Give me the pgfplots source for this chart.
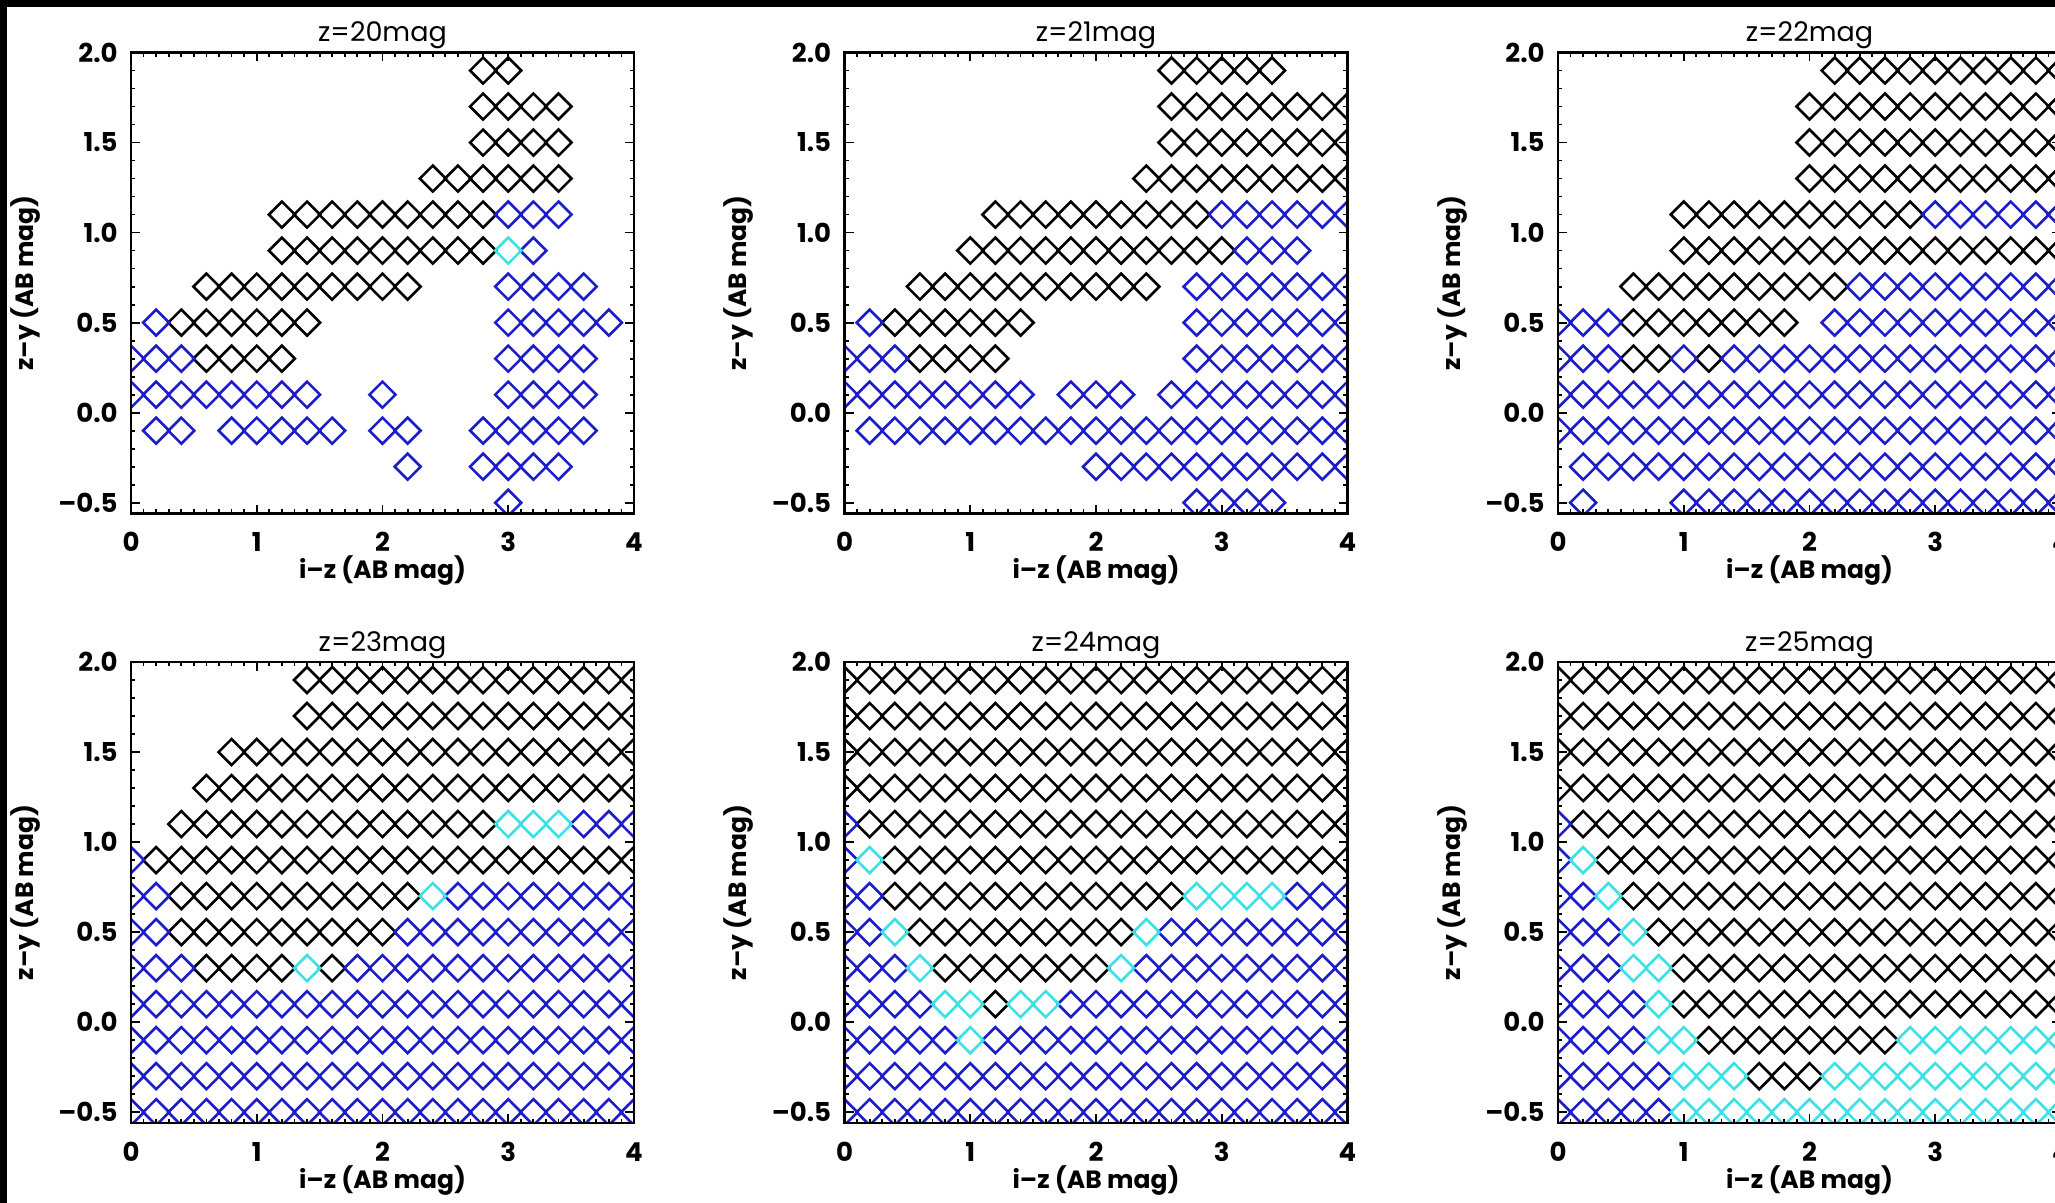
\documentclass[border=0pt]{standalone}
\usepackage{pgfplots}
\pgfplotsset{compat=1.18}
\usepackage{fontspec}
\setmainfont{Poppins}
\definecolor{selblue}{RGB}{28,28,200}
\definecolor{selcyan}{RGB}{60,225,230}
\pgfplotsset{
  mk/.style={only marks, mark=square, mark size=4.6pt,
    mark options={rotate=45, line width=1.3pt, solid}},
  panel/.style={
    scale only axis, width=251.5pt, height=230.5pt,
    anchor=north west,
    xmin=0, xmax=4, ymin=-0.56, ymax=2,
    xtick={0,1,2,3,4}, xticklabels={0,1,2,3,4},
    ytick={-0.5,0,0.5,1,1.5,2}, yticklabels={--0.5,0.0,0.5,1.0,1.5,2.0},
    minor x tick num=9, minor y tick num=4,
    xtick pos=both, ytick pos=both,
    tick align=inside,
    major tick length=4.5pt, minor tick length=2.2pt,
    tick style={black, line width=0.9pt},
    axis line style={black, line width=1.3pt},
    axis on top, clip marker paths=true,
    tick label style={font=\fontsize{13}{13}\selectfont\bfseries},
    xticklabel style={anchor=base, yshift=-19pt},
    yticklabel style={anchor=east, inner sep=0pt, xshift=-6.5pt},
    every axis title/.style={at={(0.5,1)}, anchor=base, yshift=5.5pt,
      font=\fontsize{13.5}{14}\selectfont},
    every axis x label/.style={at={(axis description cs:0.5,-0.124)}, anchor=center,
      font=\fontsize{12.5}{13}\selectfont\bfseries},
    every axis y label/.style={at={(axis description cs:-0.21,0.5)}, anchor=center,
      rotate=90, font=\fontsize{12.5}{13}\selectfont\bfseries},
    xlabel={i--z (AB mag)}, ylabel={z--y (AB mag)},
  },
}
\begin{document}
\begin{tikzpicture}
\path[use as bounding box] (0,0) rectangle (1027.5pt,-601.5pt);
\fill[black] (0,0) rectangle (1027.5pt,-601.5pt);
\fill[white] (3.5pt,-3.5pt) rectangle (1027.5pt,-601.5pt);
\clip (0,0) rectangle (1027.5pt,-601.5pt);

% ---------------- z = 20 mag ----------------
\begin{axis}[panel, at={(65.5pt,-26.25pt)}, title={z=20mag}]
\addplot[mk, black] coordinates {
(2.8,1.9)(3,1.9)
(2.8,1.7)(3,1.7)(3.2,1.7)(3.4,1.7)
(2.8,1.5)(3,1.5)(3.2,1.5)(3.4,1.5)
(2.4,1.3)(2.6,1.3)(2.8,1.3)(3,1.3)(3.2,1.3)(3.4,1.3)
(1.2,1.1)(1.4,1.1)(1.6,1.1)(1.8,1.1)(2,1.1)(2.2,1.1)(2.4,1.1)(2.6,1.1)(2.8,1.1)
(1.2,0.9)(1.4,0.9)(1.6,0.9)(1.8,0.9)(2,0.9)(2.2,0.9)(2.4,0.9)(2.6,0.9)(2.8,0.9)
(0.6,0.7)(0.8,0.7)(1,0.7)(1.2,0.7)(1.4,0.7)(1.6,0.7)(1.8,0.7)(2,0.7)(2.2,0.7)
(0.4,0.5)(0.6,0.5)(0.8,0.5)(1,0.5)(1.2,0.5)(1.4,0.5)
(0.6,0.3)(0.8,0.3)(1,0.3)(1.2,0.3)
};
\addplot[mk, selblue] coordinates {
(3,1.1)(3.2,1.1)(3.4,1.1)
(3.2,0.9)
(3,0.7)(3.2,0.7)(3.4,0.7)(3.6,0.7)
(0.2,0.5)(3,0.5)(3.2,0.5)(3.4,0.5)(3.6,0.5)(3.8,0.5)
(0,0.3)(0.2,0.3)(0.4,0.3)(3,0.3)(3.2,0.3)(3.4,0.3)(3.6,0.3)
(0,0.1)(0.2,0.1)(0.4,0.1)(0.6,0.1)(0.8,0.1)(1,0.1)(1.2,0.1)(1.4,0.1)(2,0.1)(3,0.1)(3.2,0.1)(3.4,0.1)(3.6,0.1)
(0.2,-0.1)(0.4,-0.1)(0.8,-0.1)(1,-0.1)(1.2,-0.1)(1.4,-0.1)(1.6,-0.1)(2,-0.1)(2.2,-0.1)(2.8,-0.1)(3,-0.1)(3.2,-0.1)(3.4,-0.1)(3.6,-0.1)
(2.2,-0.3)(2.8,-0.3)(3,-0.3)(3.2,-0.3)(3.4,-0.3)
(3,-0.5)
};
\addplot[mk, selcyan] coordinates {(3,0.9)};
\end{axis}

% ---------------- z = 21 mag ----------------
\begin{axis}[panel, at={(422.25pt,-26.25pt)}, title={z=21mag}]
\addplot[mk, black] coordinates {
(2.6,1.9)(2.8,1.9)(3,1.9)(3.2,1.9)(3.4,1.9)
(2.6,1.7)(2.8,1.7)(3,1.7)(3.2,1.7)(3.4,1.7)(3.6,1.7)(3.8,1.7)(4,1.7)
(2.6,1.5)(2.8,1.5)(3,1.5)(3.2,1.5)(3.4,1.5)(3.6,1.5)(3.8,1.5)(4,1.5)
(2.4,1.3)(2.6,1.3)(2.8,1.3)(3,1.3)(3.2,1.3)(3.4,1.3)(3.6,1.3)(3.8,1.3)(4,1.3)
(1.2,1.1)(1.4,1.1)(1.6,1.1)(1.8,1.1)(2,1.1)(2.2,1.1)(2.4,1.1)(2.6,1.1)(2.8,1.1)
(1,0.9)(1.2,0.9)(1.4,0.9)(1.6,0.9)(1.8,0.9)(2,0.9)(2.2,0.9)(2.4,0.9)(2.6,0.9)(2.8,0.9)(3,0.9)
(0.6,0.7)(0.8,0.7)(1,0.7)(1.2,0.7)(1.4,0.7)(1.6,0.7)(1.8,0.7)(2,0.7)(2.2,0.7)(2.4,0.7)
(0.4,0.5)(0.6,0.5)(0.8,0.5)(1,0.5)(1.2,0.5)(1.4,0.5)
(0.6,0.3)(0.8,0.3)(1,0.3)(1.2,0.3)
};
\addplot[mk, selblue] coordinates {
(3,1.1)(3.2,1.1)(3.4,1.1)(3.6,1.1)(3.8,1.1)(4,1.1)
(3.2,0.9)(3.4,0.9)(3.6,0.9)
(2.8,0.7)(3,0.7)(3.2,0.7)(3.4,0.7)(3.6,0.7)(3.8,0.7)(4,0.7)
(0.2,0.5)(2.8,0.5)(3,0.5)(3.2,0.5)(3.4,0.5)(3.6,0.5)(3.8,0.5)(4,0.5)
(0,0.3)(0.2,0.3)(0.4,0.3)(2.8,0.3)(3,0.3)(3.2,0.3)(3.4,0.3)(3.6,0.3)(3.8,0.3)(4,0.3)
(0,0.1)(0.2,0.1)(0.4,0.1)(0.6,0.1)(0.8,0.1)(1,0.1)(1.2,0.1)(1.4,0.1)(1.8,0.1)(2,0.1)(2.2,0.1)(2.6,0.1)(2.8,0.1)(3,0.1)(3.2,0.1)(3.4,0.1)(3.6,0.1)(3.8,0.1)(4,0.1)
(0.2,-0.1)(0.4,-0.1)(0.6,-0.1)(0.8,-0.1)(1,-0.1)(1.2,-0.1)(1.4,-0.1)(1.6,-0.1)(1.8,-0.1)(2,-0.1)(2.2,-0.1)(2.4,-0.1)(2.6,-0.1)(2.8,-0.1)(3,-0.1)(3.2,-0.1)(3.4,-0.1)(3.6,-0.1)(3.8,-0.1)(4,-0.1)
(2,-0.3)(2.2,-0.3)(2.4,-0.3)(2.6,-0.3)(2.8,-0.3)(3,-0.3)(3.2,-0.3)(3.4,-0.3)(3.6,-0.3)(3.8,-0.3)(4,-0.3)
(2.8,-0.5)(3,-0.5)(3.2,-0.5)(3.4,-0.5)
};
\end{axis}

% ---------------- z = 22 mag ----------------
\begin{axis}[panel, at={(779pt,-26.25pt)}, title={z=22mag}]
\addplot[mk, black] coordinates {
(2.2,1.9)(2.4,1.9)(2.6,1.9)(2.8,1.9)(3,1.9)(3.2,1.9)(3.4,1.9)(3.6,1.9)(3.8,1.9)(4,1.9)
(2,1.7)(2.2,1.7)(2.4,1.7)(2.6,1.7)(2.8,1.7)(3,1.7)(3.2,1.7)(3.4,1.7)(3.6,1.7)(3.8,1.7)(4,1.7)
(2,1.5)(2.2,1.5)(2.4,1.5)(2.6,1.5)(2.8,1.5)(3,1.5)(3.2,1.5)(3.4,1.5)(3.6,1.5)(3.8,1.5)(4,1.5)
(2,1.3)(2.2,1.3)(2.4,1.3)(2.6,1.3)(2.8,1.3)(3,1.3)(3.2,1.3)(3.4,1.3)(3.6,1.3)(3.8,1.3)(4,1.3)
(1,1.1)(1.2,1.1)(1.4,1.1)(1.6,1.1)(1.8,1.1)(2,1.1)(2.2,1.1)(2.4,1.1)(2.6,1.1)(2.8,1.1)
(1,0.9)(1.2,0.9)(1.4,0.9)(1.6,0.9)(1.8,0.9)(2,0.9)(2.2,0.9)(2.4,0.9)(2.6,0.9)(2.8,0.9)(3,0.9)(3.2,0.9)(3.4,0.9)(3.6,0.9)(3.8,0.9)(4,0.9)
(0.6,0.7)(0.8,0.7)(1,0.7)(1.2,0.7)(1.4,0.7)(1.6,0.7)(1.8,0.7)(2,0.7)(2.2,0.7)
(0.6,0.5)(0.8,0.5)(1,0.5)(1.2,0.5)(1.4,0.5)(1.6,0.5)(1.8,0.5)
(0.6,0.3)(0.8,0.3)(1.2,0.3)
};
\addplot[mk, selblue] coordinates {
(3,1.1)(3.2,1.1)(3.4,1.1)(3.6,1.1)(3.8,1.1)(4,1.1)
(2.4,0.7)(2.6,0.7)(2.8,0.7)(3,0.7)(3.2,0.7)(3.4,0.7)(3.6,0.7)(3.8,0.7)(4,0.7)
(0,0.5)(0.2,0.5)(0.4,0.5)(2.2,0.5)(2.4,0.5)(2.6,0.5)(2.8,0.5)(3,0.5)(3.2,0.5)(3.4,0.5)(3.6,0.5)(3.8,0.5)(4,0.5)
(0,0.3)(0.2,0.3)(0.4,0.3)(1,0.3)(1.4,0.3)(1.6,0.3)(1.8,0.3)(2,0.3)(2.2,0.3)(2.4,0.3)(2.6,0.3)(2.8,0.3)(3,0.3)(3.2,0.3)(3.4,0.3)(3.6,0.3)(3.8,0.3)(4,0.3)
(0,0.1)(0.2,0.1)(0.4,0.1)(0.6,0.1)(0.8,0.1)(1,0.1)(1.2,0.1)(1.4,0.1)(1.6,0.1)(1.8,0.1)(2,0.1)(2.2,0.1)(2.4,0.1)(2.6,0.1)(2.8,0.1)(3,0.1)(3.2,0.1)(3.4,0.1)(3.6,0.1)(3.8,0.1)(4,0.1)
(0,-0.1)(0.2,-0.1)(0.4,-0.1)(0.6,-0.1)(0.8,-0.1)(1,-0.1)(1.2,-0.1)(1.4,-0.1)(1.6,-0.1)(1.8,-0.1)(2,-0.1)(2.2,-0.1)(2.4,-0.1)(2.6,-0.1)(2.8,-0.1)(3,-0.1)(3.2,-0.1)(3.4,-0.1)(3.6,-0.1)(3.8,-0.1)(4,-0.1)
(0.2,-0.3)(0.4,-0.3)(0.6,-0.3)(0.8,-0.3)(1,-0.3)(1.2,-0.3)(1.4,-0.3)(1.6,-0.3)(1.8,-0.3)(2,-0.3)(2.2,-0.3)(2.4,-0.3)(2.6,-0.3)(2.8,-0.3)(3,-0.3)(3.2,-0.3)(3.4,-0.3)(3.6,-0.3)(3.8,-0.3)(4,-0.3)
(0.2,-0.5)(1,-0.5)(1.2,-0.5)(1.4,-0.5)(1.6,-0.5)(1.8,-0.5)(2,-0.5)(2.2,-0.5)(2.4,-0.5)(2.6,-0.5)(2.8,-0.5)(3,-0.5)(3.2,-0.5)(3.4,-0.5)(3.6,-0.5)(3.8,-0.5)(4,-0.5)
};
\end{axis}

% ---------------- z = 23 mag ----------------
\begin{axis}[panel, at={(65.5pt,-331pt)}, title={z=23mag}]
\addplot[mk, black] coordinates {
(1.4,1.9)(1.6,1.9)(1.8,1.9)(2,1.9)(2.2,1.9)(2.4,1.9)(2.6,1.9)(2.8,1.9)(3,1.9)(3.2,1.9)(3.4,1.9)(3.6,1.9)(3.8,1.9)(4,1.9)
(1.4,1.7)(1.6,1.7)(1.8,1.7)(2,1.7)(2.2,1.7)(2.4,1.7)(2.6,1.7)(2.8,1.7)(3,1.7)(3.2,1.7)(3.4,1.7)(3.6,1.7)(3.8,1.7)(4,1.7)
(0.8,1.5)(1,1.5)(1.2,1.5)(1.4,1.5)(1.6,1.5)(1.8,1.5)(2,1.5)(2.2,1.5)(2.4,1.5)(2.6,1.5)(2.8,1.5)(3,1.5)(3.2,1.5)(3.4,1.5)(3.6,1.5)(3.8,1.5)(4,1.5)
(0.6,1.3)(0.8,1.3)(1,1.3)(1.2,1.3)(1.4,1.3)(1.6,1.3)(1.8,1.3)(2,1.3)(2.2,1.3)(2.4,1.3)(2.6,1.3)(2.8,1.3)(3,1.3)(3.2,1.3)(3.4,1.3)(3.6,1.3)(3.8,1.3)(4,1.3)
(0.4,1.1)(0.6,1.1)(0.8,1.1)(1,1.1)(1.2,1.1)(1.4,1.1)(1.6,1.1)(1.8,1.1)(2,1.1)(2.2,1.1)(2.4,1.1)(2.6,1.1)(2.8,1.1)
(0.2,0.9)(0.4,0.9)(0.6,0.9)(0.8,0.9)(1,0.9)(1.2,0.9)(1.4,0.9)(1.6,0.9)(1.8,0.9)(2,0.9)(2.2,0.9)(2.4,0.9)(2.6,0.9)(2.8,0.9)(3,0.9)(3.2,0.9)(3.4,0.9)(3.6,0.9)(3.8,0.9)(4,0.9)
(0.4,0.7)(0.6,0.7)(0.8,0.7)(1,0.7)(1.2,0.7)(1.4,0.7)(1.6,0.7)(1.8,0.7)(2,0.7)(2.2,0.7)
(0.4,0.5)(0.6,0.5)(0.8,0.5)(1,0.5)(1.2,0.5)(1.4,0.5)(1.6,0.5)(1.8,0.5)(2,0.5)
(0.6,0.3)(0.8,0.3)(1,0.3)(1.2,0.3)(1.6,0.3)
};
\addplot[mk, selblue] coordinates {
(3.6,1.1)(3.8,1.1)(4,1.1)
(0,0.9)
(0,0.7)(0.2,0.7)(2.6,0.7)(2.8,0.7)(3,0.7)(3.2,0.7)(3.4,0.7)(3.6,0.7)(3.8,0.7)(4,0.7)
(0,0.5)(0.2,0.5)(2.2,0.5)(2.4,0.5)(2.6,0.5)(2.8,0.5)(3,0.5)(3.2,0.5)(3.4,0.5)(3.6,0.5)(3.8,0.5)(4,0.5)
(0,0.3)(0.2,0.3)(0.4,0.3)(1.8,0.3)(2,0.3)(2.2,0.3)(2.4,0.3)(2.6,0.3)(2.8,0.3)(3,0.3)(3.2,0.3)(3.4,0.3)(3.6,0.3)(3.8,0.3)(4,0.3)
(0,0.1)(0.2,0.1)(0.4,0.1)(0.6,0.1)(0.8,0.1)(1,0.1)(1.2,0.1)(1.4,0.1)(1.6,0.1)(1.8,0.1)(2,0.1)(2.2,0.1)(2.4,0.1)(2.6,0.1)(2.8,0.1)(3,0.1)(3.2,0.1)(3.4,0.1)(3.6,0.1)(3.8,0.1)(4,0.1)
(0,-0.1)(0.2,-0.1)(0.4,-0.1)(0.6,-0.1)(0.8,-0.1)(1,-0.1)(1.2,-0.1)(1.4,-0.1)(1.6,-0.1)(1.8,-0.1)(2,-0.1)(2.2,-0.1)(2.4,-0.1)(2.6,-0.1)(2.8,-0.1)(3,-0.1)(3.2,-0.1)(3.4,-0.1)(3.6,-0.1)(3.8,-0.1)(4,-0.1)
(0,-0.3)(0.2,-0.3)(0.4,-0.3)(0.6,-0.3)(0.8,-0.3)(1,-0.3)(1.2,-0.3)(1.4,-0.3)(1.6,-0.3)(1.8,-0.3)(2,-0.3)(2.2,-0.3)(2.4,-0.3)(2.6,-0.3)(2.8,-0.3)(3,-0.3)(3.2,-0.3)(3.4,-0.3)(3.6,-0.3)(3.8,-0.3)(4,-0.3)
(0,-0.5)(0.2,-0.5)(0.4,-0.5)(0.6,-0.5)(0.8,-0.5)(1,-0.5)(1.2,-0.5)(1.4,-0.5)(1.6,-0.5)(1.8,-0.5)(2,-0.5)(2.2,-0.5)(2.4,-0.5)(2.6,-0.5)(2.8,-0.5)(3,-0.5)(3.2,-0.5)(3.4,-0.5)(3.6,-0.5)(3.8,-0.5)(4,-0.5)
};
\addplot[mk, selcyan] coordinates {(3,1.1)(3.2,1.1)(3.4,1.1)(2.4,0.7)(1.4,0.3)};
\end{axis}

% ---------------- z = 24 mag ----------------
\begin{axis}[panel, at={(422.25pt,-331pt)}, title={z=24mag}]
\addplot[mk, black] coordinates {
(0,1.9)(0.2,1.9)(0.4,1.9)(0.6,1.9)(0.8,1.9)(1,1.9)(1.2,1.9)(1.4,1.9)(1.6,1.9)(1.8,1.9)(2,1.9)(2.2,1.9)(2.4,1.9)(2.6,1.9)(2.8,1.9)(3,1.9)(3.2,1.9)(3.4,1.9)(3.6,1.9)(3.8,1.9)(4,1.9)
(0,1.7)(0.2,1.7)(0.4,1.7)(0.6,1.7)(0.8,1.7)(1,1.7)(1.2,1.7)(1.4,1.7)(1.6,1.7)(1.8,1.7)(2,1.7)(2.2,1.7)(2.4,1.7)(2.6,1.7)(2.8,1.7)(3,1.7)(3.2,1.7)(3.4,1.7)(3.6,1.7)(3.8,1.7)(4,1.7)
(0,1.5)(0.2,1.5)(0.4,1.5)(0.6,1.5)(0.8,1.5)(1,1.5)(1.2,1.5)(1.4,1.5)(1.6,1.5)(1.8,1.5)(2,1.5)(2.2,1.5)(2.4,1.5)(2.6,1.5)(2.8,1.5)(3,1.5)(3.2,1.5)(3.4,1.5)(3.6,1.5)(3.8,1.5)(4,1.5)
(0,1.3)(0.2,1.3)(0.4,1.3)(0.6,1.3)(0.8,1.3)(1,1.3)(1.2,1.3)(1.4,1.3)(1.6,1.3)(1.8,1.3)(2,1.3)(2.2,1.3)(2.4,1.3)(2.6,1.3)(2.8,1.3)(3,1.3)(3.2,1.3)(3.4,1.3)(3.6,1.3)(3.8,1.3)(4,1.3)
(0.2,1.1)(0.4,1.1)(0.6,1.1)(0.8,1.1)(1,1.1)(1.2,1.1)(1.4,1.1)(1.6,1.1)(1.8,1.1)(2,1.1)(2.2,1.1)(2.4,1.1)(2.6,1.1)(2.8,1.1)(3,1.1)(3.2,1.1)(3.4,1.1)(3.6,1.1)(3.8,1.1)(4,1.1)
(0.4,0.9)(0.6,0.9)(0.8,0.9)(1,0.9)(1.2,0.9)(1.4,0.9)(1.6,0.9)(1.8,0.9)(2,0.9)(2.2,0.9)(2.4,0.9)(2.6,0.9)(2.8,0.9)(3,0.9)(3.2,0.9)(3.4,0.9)(3.6,0.9)(3.8,0.9)(4,0.9)
(0.4,0.7)(0.6,0.7)(0.8,0.7)(1,0.7)(1.2,0.7)(1.4,0.7)(1.6,0.7)(1.8,0.7)(2,0.7)(2.2,0.7)(2.4,0.7)(2.6,0.7)
(0.6,0.5)(0.8,0.5)(1,0.5)(1.2,0.5)(1.4,0.5)(1.6,0.5)(1.8,0.5)(2,0.5)(2.2,0.5)
(0.8,0.3)(1,0.3)(1.2,0.3)(1.4,0.3)(1.6,0.3)(1.8,0.3)(2,0.3)
(1.2,0.1)
};
\addplot[mk, selblue] coordinates {
(0,1.1)
(0,0.9)
(0,0.7)(0.2,0.7)(3.6,0.7)(3.8,0.7)(4,0.7)
(0,0.5)(0.2,0.5)(2.6,0.5)(2.8,0.5)(3,0.5)(3.2,0.5)(3.4,0.5)(3.6,0.5)(3.8,0.5)(4,0.5)
(0,0.3)(0.2,0.3)(0.4,0.3)(2.4,0.3)(2.6,0.3)(2.8,0.3)(3,0.3)(3.2,0.3)(3.4,0.3)(3.6,0.3)(3.8,0.3)(4,0.3)
(0,0.1)(0.2,0.1)(0.4,0.1)(0.6,0.1)(1.8,0.1)(2,0.1)(2.2,0.1)(2.4,0.1)(2.6,0.1)(2.8,0.1)(3,0.1)(3.2,0.1)(3.4,0.1)(3.6,0.1)(3.8,0.1)(4,0.1)
(0,-0.1)(0.2,-0.1)(0.4,-0.1)(0.6,-0.1)(0.8,-0.1)(1.2,-0.1)(1.4,-0.1)(1.6,-0.1)(1.8,-0.1)(2,-0.1)(2.2,-0.1)(2.4,-0.1)(2.6,-0.1)(2.8,-0.1)(3,-0.1)(3.2,-0.1)(3.4,-0.1)(3.6,-0.1)(3.8,-0.1)(4,-0.1)
(0,-0.3)(0.2,-0.3)(0.4,-0.3)(0.6,-0.3)(0.8,-0.3)(1,-0.3)(1.2,-0.3)(1.4,-0.3)(1.6,-0.3)(1.8,-0.3)(2,-0.3)(2.2,-0.3)(2.4,-0.3)(2.6,-0.3)(2.8,-0.3)(3,-0.3)(3.2,-0.3)(3.4,-0.3)(3.6,-0.3)(3.8,-0.3)(4,-0.3)
(0,-0.5)(0.2,-0.5)(0.4,-0.5)(0.6,-0.5)(0.8,-0.5)(1,-0.5)(1.2,-0.5)(1.4,-0.5)(1.6,-0.5)(1.8,-0.5)(2,-0.5)(2.2,-0.5)(2.4,-0.5)(2.6,-0.5)(2.8,-0.5)(3,-0.5)(3.2,-0.5)(3.4,-0.5)(3.6,-0.5)(3.8,-0.5)(4,-0.5)
};
\addplot[mk, selcyan] coordinates {
(0.2,0.9)
(2.8,0.7)(3,0.7)(3.2,0.7)(3.4,0.7)
(0.4,0.5)(2.4,0.5)
(0.6,0.3)(2.2,0.3)
(0.8,0.1)(1,0.1)(1.4,0.1)(1.6,0.1)
(1,-0.1)
};
\end{axis}

% ---------------- z = 25 mag ----------------
\begin{axis}[panel, at={(779pt,-331pt)}, title={z=25mag}]
\addplot[mk, black] coordinates {
(0,1.9)(0.2,1.9)(0.4,1.9)(0.6,1.9)(0.8,1.9)(1,1.9)(1.2,1.9)(1.4,1.9)(1.6,1.9)(1.8,1.9)(2,1.9)(2.2,1.9)(2.4,1.9)(2.6,1.9)(2.8,1.9)(3,1.9)(3.2,1.9)(3.4,1.9)(3.6,1.9)(3.8,1.9)(4,1.9)
(0,1.7)(0.2,1.7)(0.4,1.7)(0.6,1.7)(0.8,1.7)(1,1.7)(1.2,1.7)(1.4,1.7)(1.6,1.7)(1.8,1.7)(2,1.7)(2.2,1.7)(2.4,1.7)(2.6,1.7)(2.8,1.7)(3,1.7)(3.2,1.7)(3.4,1.7)(3.6,1.7)(3.8,1.7)(4,1.7)
(0,1.5)(0.2,1.5)(0.4,1.5)(0.6,1.5)(0.8,1.5)(1,1.5)(1.2,1.5)(1.4,1.5)(1.6,1.5)(1.8,1.5)(2,1.5)(2.2,1.5)(2.4,1.5)(2.6,1.5)(2.8,1.5)(3,1.5)(3.2,1.5)(3.4,1.5)(3.6,1.5)(3.8,1.5)(4,1.5)
(0,1.3)(0.2,1.3)(0.4,1.3)(0.6,1.3)(0.8,1.3)(1,1.3)(1.2,1.3)(1.4,1.3)(1.6,1.3)(1.8,1.3)(2,1.3)(2.2,1.3)(2.4,1.3)(2.6,1.3)(2.8,1.3)(3,1.3)(3.2,1.3)(3.4,1.3)(3.6,1.3)(3.8,1.3)(4,1.3)
(0.2,1.1)(0.4,1.1)(0.6,1.1)(0.8,1.1)(1,1.1)(1.2,1.1)(1.4,1.1)(1.6,1.1)(1.8,1.1)(2,1.1)(2.2,1.1)(2.4,1.1)(2.6,1.1)(2.8,1.1)(3,1.1)(3.2,1.1)(3.4,1.1)(3.6,1.1)(3.8,1.1)(4,1.1)
(0.4,0.9)(0.6,0.9)(0.8,0.9)(1,0.9)(1.2,0.9)(1.4,0.9)(1.6,0.9)(1.8,0.9)(2,0.9)(2.2,0.9)(2.4,0.9)(2.6,0.9)(2.8,0.9)(3,0.9)(3.2,0.9)(3.4,0.9)(3.6,0.9)(3.8,0.9)(4,0.9)
(0.6,0.7)(0.8,0.7)(1,0.7)(1.2,0.7)(1.4,0.7)(1.6,0.7)(1.8,0.7)(2,0.7)(2.2,0.7)(2.4,0.7)(2.6,0.7)(2.8,0.7)(3,0.7)(3.2,0.7)(3.4,0.7)(3.6,0.7)(3.8,0.7)(4,0.7)
(0.8,0.5)(1,0.5)(1.2,0.5)(1.4,0.5)(1.6,0.5)(1.8,0.5)(2,0.5)(2.2,0.5)(2.4,0.5)(2.6,0.5)(2.8,0.5)(3,0.5)(3.2,0.5)(3.4,0.5)(3.6,0.5)(3.8,0.5)(4,0.5)
(1,0.3)(1.2,0.3)(1.4,0.3)(1.6,0.3)(1.8,0.3)(2,0.3)(2.2,0.3)(2.4,0.3)(2.6,0.3)(2.8,0.3)(3,0.3)(3.2,0.3)(3.4,0.3)(3.6,0.3)(3.8,0.3)(4,0.3)
(1,0.1)(1.2,0.1)(1.4,0.1)(1.6,0.1)(1.8,0.1)(2,0.1)(2.2,0.1)(2.4,0.1)(2.6,0.1)(2.8,0.1)(3,0.1)(3.2,0.1)(3.4,0.1)(3.6,0.1)(3.8,0.1)(4,0.1)
(1.2,-0.1)(1.4,-0.1)(1.6,-0.1)(1.8,-0.1)(2,-0.1)(2.2,-0.1)(2.4,-0.1)(2.6,-0.1)
(1.6,-0.3)(1.8,-0.3)(2,-0.3)
};
\addplot[mk, selblue] coordinates {
(0,1.1)
(0,0.9)
(0,0.7)(0.2,0.7)
(0,0.5)(0.2,0.5)(0.4,0.5)
(0,0.3)(0.2,0.3)(0.4,0.3)
(0,0.1)(0.2,0.1)(0.4,0.1)(0.6,0.1)
(0,-0.1)(0.2,-0.1)(0.4,-0.1)(0.6,-0.1)
(0,-0.3)(0.2,-0.3)(0.4,-0.3)(0.6,-0.3)(0.8,-0.3)
(0,-0.5)(0.2,-0.5)(0.4,-0.5)(0.6,-0.5)(0.8,-0.5)
};
\addplot[mk, selcyan] coordinates {
(0.2,0.9)
(0.4,0.7)
(0.6,0.5)
(0.6,0.3)(0.8,0.3)
(0.8,0.1)
(0.8,-0.1)(1,-0.1)(2.8,-0.1)(3,-0.1)(3.2,-0.1)(3.4,-0.1)(3.6,-0.1)(3.8,-0.1)(4,-0.1)
(1,-0.3)(1.2,-0.3)(1.4,-0.3)(2.2,-0.3)(2.4,-0.3)(2.6,-0.3)(2.8,-0.3)(3,-0.3)(3.2,-0.3)(3.4,-0.3)(3.6,-0.3)(3.8,-0.3)(4,-0.3)
(1,-0.5)(1.2,-0.5)(1.4,-0.5)(1.6,-0.5)(1.8,-0.5)(2,-0.5)(2.2,-0.5)(2.4,-0.5)(2.6,-0.5)(2.8,-0.5)(3,-0.5)(3.2,-0.5)(3.4,-0.5)(3.6,-0.5)(3.8,-0.5)(4,-0.5)
};
\end{axis}
\end{tikzpicture}
\end{document}
